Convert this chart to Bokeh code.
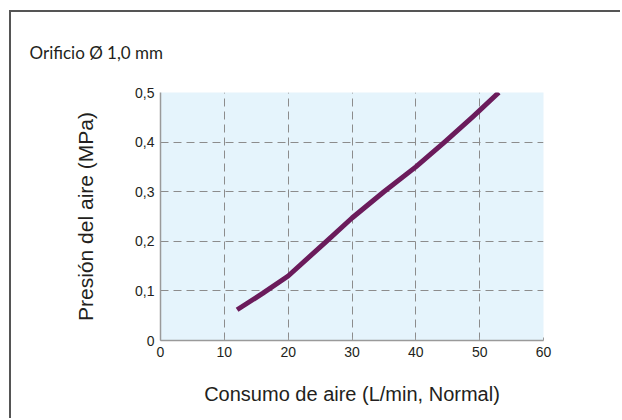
from bokeh.plotting import figure
from bokeh.models import Range1d, FixedTicker, CustomJSTickFormatter
from bokeh.embed import file_html
from bokeh.resources import INLINE

# ---- data ----
consumo = [12, 16, 20, 26, 30, 35, 40, 44.5, 49, 53]          # L/min (Normal)
presion = [0.062, 0.095, 0.13, 0.2, 0.247, 0.3, 0.35, 0.4, 0.452, 0.5]  # MPa

x_ticks = [0, 10, 20, 30, 40, 50, 60]
x_tick_labels = ["0", "10", "20", "30", "40", "50", "60"]
y_ticks = [0, 0.1, 0.2, 0.3, 0.4, 0.5]
y_tick_labels = ["0", "0,1", "0,2", "0,3", "0,4", "0,5"]

title_text = "Orificio Ø 1,0 mm"
x_label = "Consumo de aire (L/min, Normal)"
y_label = "Presión del aire (MPa)"

FONT = "Liberation Sans"
TXT = "#231f20"

W, H = 620, 418
FL, FR, FT, FB = 160, 543, 92, 340   # frame edges in page pixels

p = figure(width=W, height=H, output_backend="svg", toolbar_location=None,
           x_range=Range1d(0, 60), y_range=Range1d(0, 0.5),
           min_border_left=FL, min_border_right=W - FR, min_border_top=FT, min_border_bottom=H - FB)

p.background_fill_color = "#e5f4fc"
p.border_fill_color = None
p.outline_line_color = None
# outer frame lines (top and left) drawn behind the transparent canvas border
p.styles = {
    "overflow": "hidden",
    "background": "linear-gradient(#555555, #555555) 9px 10px / 100% 2px no-repeat, "
                  "linear-gradient(#555555, #555555) 9px 10px / 2px 100% no-repeat, white",
}

# title
p.title.text = title_text
p.title.align = "left"
p.title.offset = 29 - FL
p.title.standoff = 60
p.title.text_font = "Lato"
p.title.text_font_size = "17px"
p.title.text_font_style = "normal"
p.title.text_color = TXT

fmt_code = """
let best = 0;
for (let i = 0; i < tv.length; i++) {
  if (Math.abs(tv[i] - tick) < Math.abs(tv[best] - tick)) best = i;
}
return lab[best];
"""
p.xaxis.ticker = FixedTicker(ticks=x_ticks)
p.yaxis.ticker = FixedTicker(ticks=y_ticks)
p.xaxis.formatter = CustomJSTickFormatter(args=dict(tv=x_ticks, lab=x_tick_labels), code=fmt_code)
p.yaxis.formatter = CustomJSTickFormatter(args=dict(tv=y_ticks, lab=y_tick_labels), code=fmt_code)

for ax in (p.xaxis, p.yaxis):
    ax.axis_line_color = "#9a9a9a"
    ax.axis_line_width = 1.5
    ax.major_tick_line_color = "#9a9a9a"
    ax.minor_tick_line_color = None
    ax.major_label_text_font = FONT
    ax.major_label_text_font_size = "14px"
    ax.major_label_text_color = TXT
    ax.major_label_standoff = 6
    ax.axis_label_text_font = FONT
    ax.axis_label_text_font_style = "normal"
    ax.axis_label_text_color = TXT
p.xaxis.major_tick_in = 3
p.xaxis.major_tick_out = 0
p.yaxis.major_tick_in = 0
p.yaxis.major_tick_out = 0
p.xaxis.axis_label = x_label
p.yaxis.axis_label = y_label
p.xaxis.axis_label_text_font_size = "20px"
p.yaxis.axis_label_text_font_size = "21px"
p.xaxis.axis_label_standoff = 23
p.yaxis.axis_label_standoff = 35

p.grid.grid_line_color = "#8c8c8c"
p.grid.grid_line_dash = "8 5"
p.grid.grid_line_width = 1
p.xgrid.ticker = FixedTicker(ticks=x_ticks)
p.ygrid.ticker = FixedTicker(ticks=y_ticks)

p.line(consumo, presion, line_color="#6b1b5b", line_width=5, line_cap="butt", line_join="round")

open("out.html", "w").write(file_html(p, INLINE))
